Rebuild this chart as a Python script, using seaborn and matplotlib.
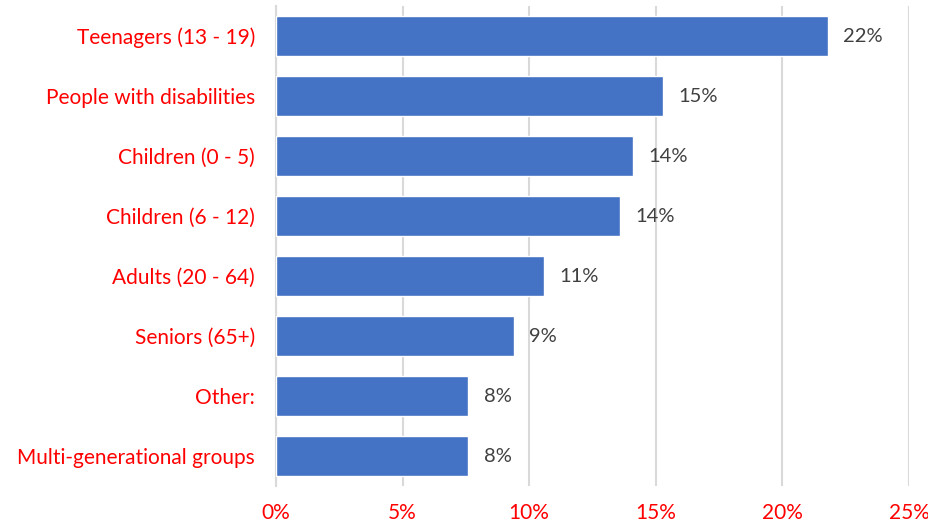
import matplotlib.pyplot as plt
import matplotlib.ticker as mtick
import pandas as pd
import seaborn as sns

# data (share of respondents)
groups = ['Teenagers (13 - 19)', 'People with disabilities', 'Children (0 - 5)',
          'Children (6 - 12)', 'Adults (20 - 64)', 'Seniors (65+)', 'Other:',
          'Multi-generational groups']
shares = [0.218, 0.153, 0.141, 0.136, 0.106, 0.094, 0.076, 0.076]

df = pd.DataFrame({'group': groups, 'share': shares})

sns.set_style('white')
plt.rcParams['font.family'] = ['Lato', 'DejaVu Sans']

fig = plt.figure(figsize=(9.29, 5.26), dpi=100)
ax = fig.add_axes([276 / 929, 1 - 486 / 526, (909 - 276) / 929, 480 / 526])

sns.barplot(data=df, x='share', y='group', orient='h', color='#4472C4',
            width=0.667, saturation=1, ax=ax, zorder=3)

ax.set_xlim(0, 0.25)
ax.set_ylim(7.5, -0.5)
ax.xaxis.set_major_locator(mtick.MultipleLocator(0.05))
ax.xaxis.set_major_formatter(mtick.PercentFormatter(1.0, decimals=0))
ax.grid(axis='x', color='#D9D9D9', linewidth=1.5, zorder=0)
ax.grid(axis='y', visible=False)

for s in ['top', 'right', 'bottom']:
    ax.spines[s].set_visible(False)
ax.spines['left'].set_color('#D9D9D9')
ax.spines['left'].set_linewidth(1.5)

ax.set_xlabel('')
ax.set_ylabel('')
ax.tick_params(axis='both', length=0, labelsize=15, colors='red')
ax.tick_params(axis='y', pad=15)
ax.tick_params(axis='x', pad=12)

for i, v in enumerate(shares):
    ax.annotate(f'{v:.0%}', (v, i), xytext=(11, 0), textcoords='offset points',
                va='center', ha='left', fontsize=14.5, color='#404040')

fig.savefig('out.png', dpi=100)
